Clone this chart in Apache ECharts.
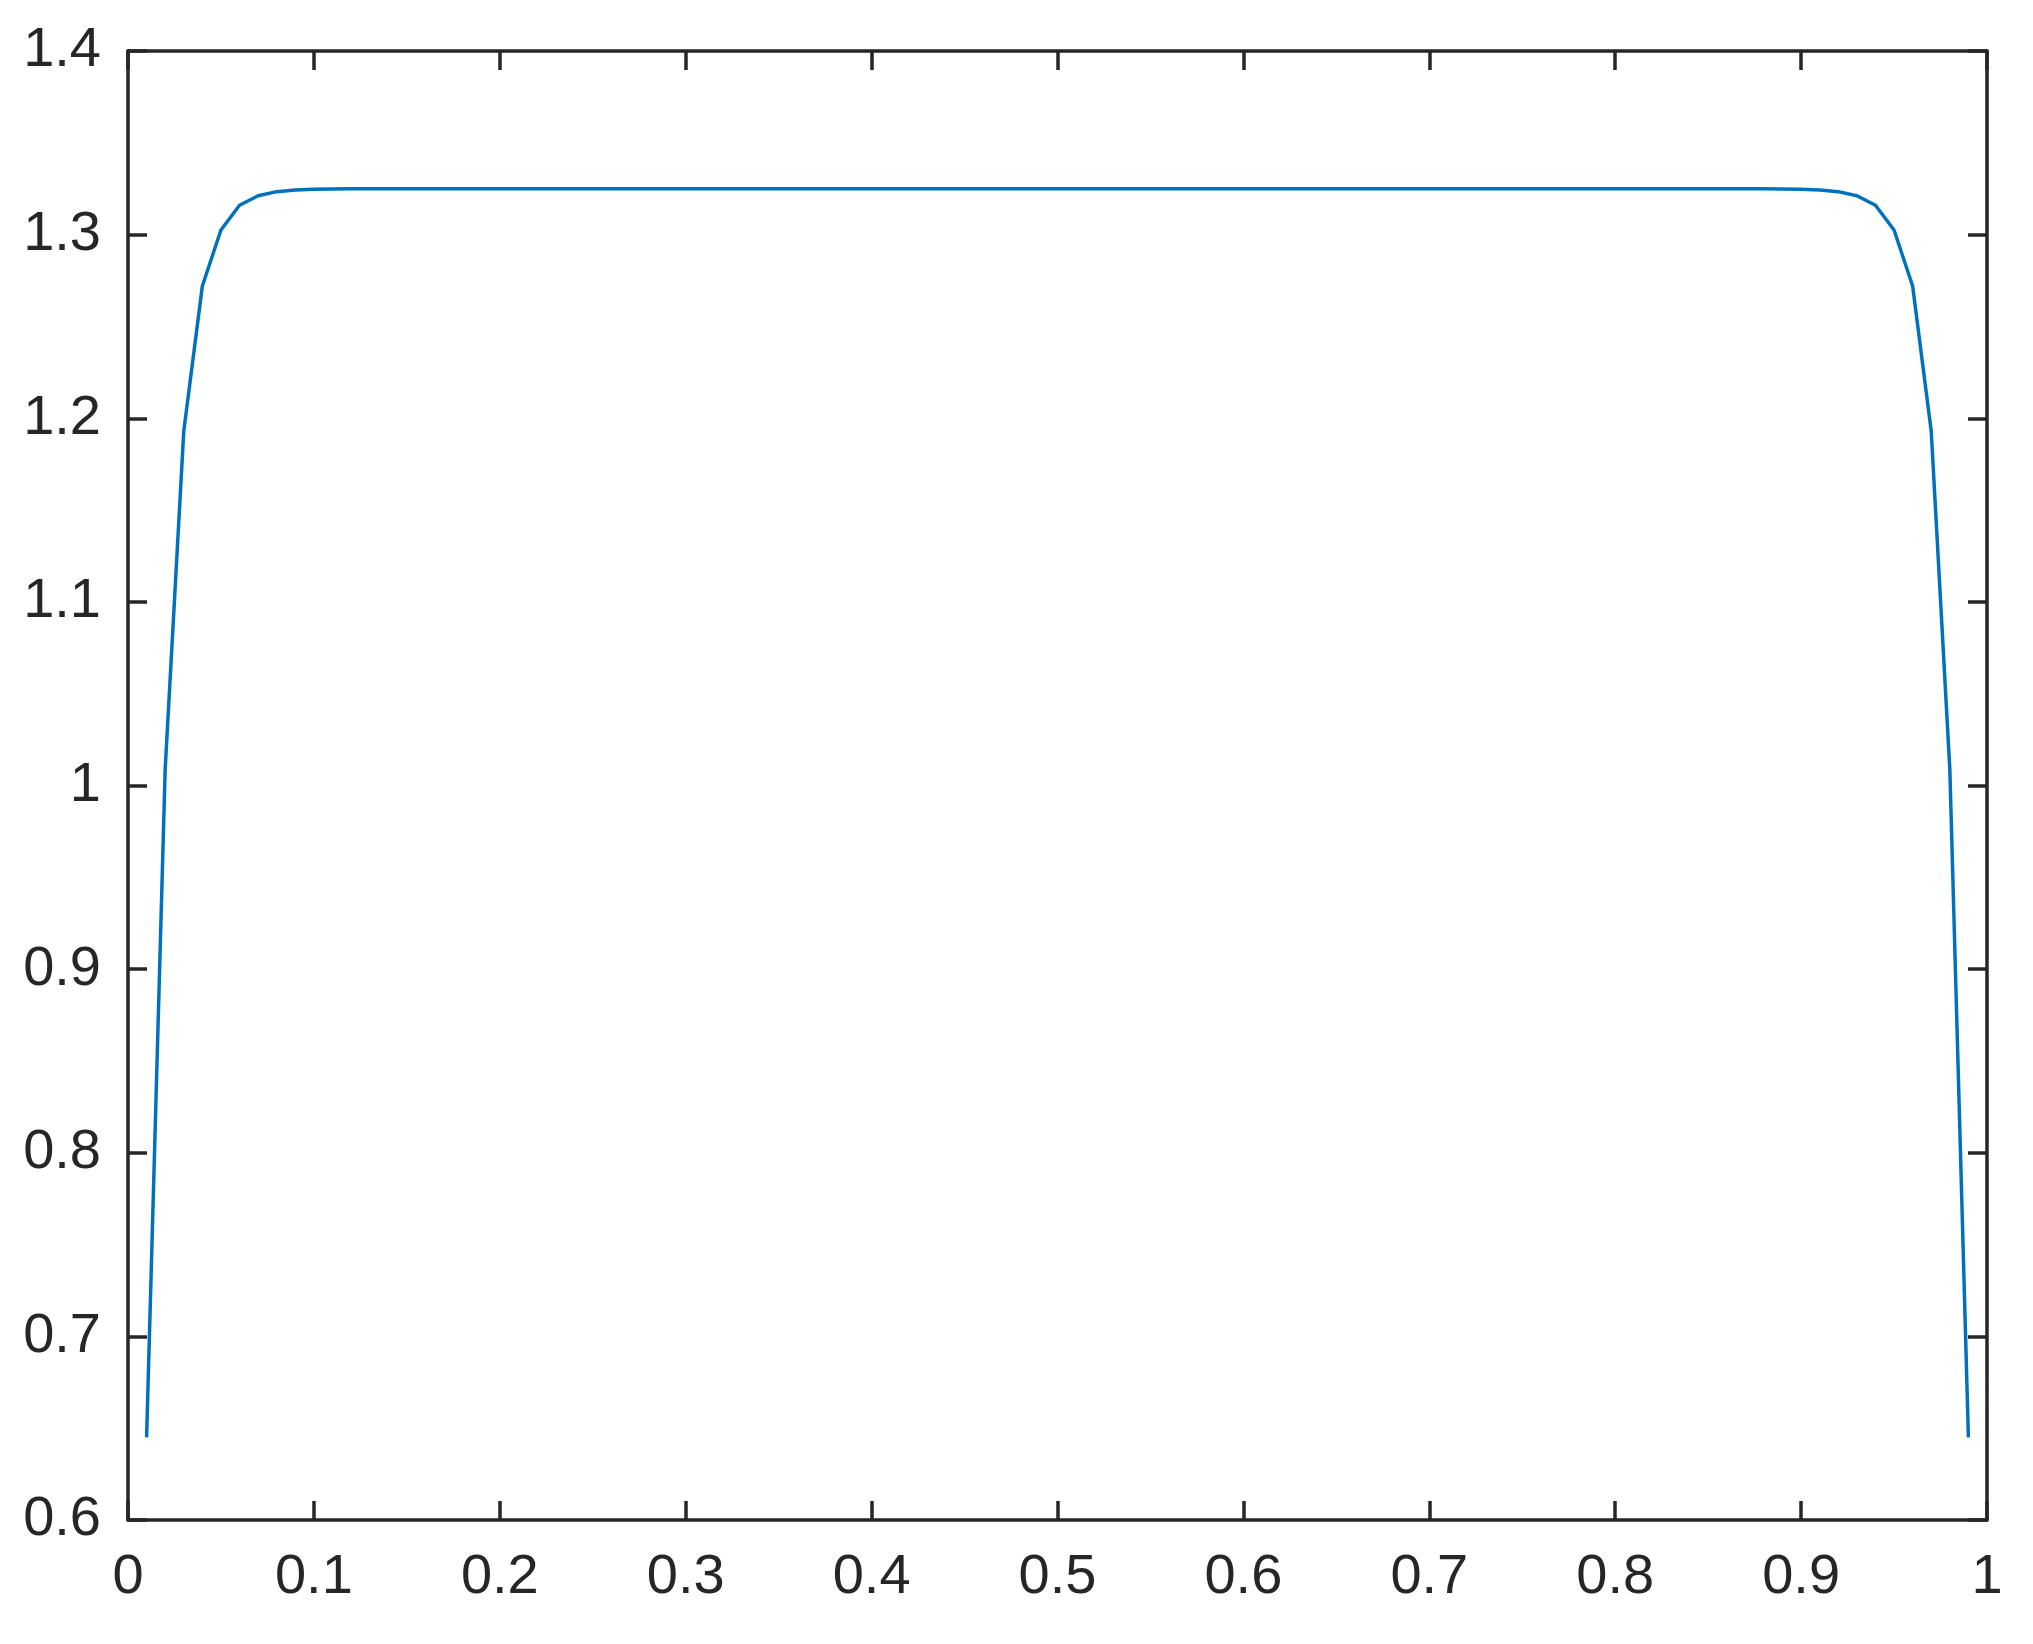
<!DOCTYPE html>
<html>
<head>
<meta charset="utf-8">
<script src="https://cdn.jsdelivr.net/npm/echarts@6/dist/echarts.min.js"></script>
<style>
html,body{margin:0;padding:0;background:#fff;}
#chart{width:2033px;height:1644px;}
</style>
</head>
<body>
<div id="chart"></div>
<script>
const xValues = [0.01,0.02,0.03,0.04,0.05,0.06,0.07,0.08,0.09,0.10,
0.11,0.12,0.13,0.14,0.15,0.16,0.17,0.18,0.19,0.20,
0.21,0.22,0.23,0.24,0.25,0.26,0.27,0.28,0.29,0.30,
0.31,0.32,0.33,0.34,0.35,0.36,0.37,0.38,0.39,0.40,
0.41,0.42,0.43,0.44,0.45,0.46,0.47,0.48,0.49,0.50,
0.51,0.52,0.53,0.54,0.55,0.56,0.57,0.58,0.59,0.60,
0.61,0.62,0.63,0.64,0.65,0.66,0.67,0.68,0.69,0.70,
0.71,0.72,0.73,0.74,0.75,0.76,0.77,0.78,0.79,0.80,
0.81,0.82,0.83,0.84,0.85,0.86,0.87,0.88,0.89,0.90,
0.91,0.92,0.93,0.94,0.95,0.96,0.97,0.98,0.99];
const yValues = [0.645,1.009,1.193,1.272,1.3025,1.316,1.3212,1.3234,1.3243,1.3247,
1.3249,1.325,1.325,1.325,1.325,1.325,1.325,1.325,1.325,1.325,
1.325,1.325,1.325,1.325,1.325,1.325,1.325,1.325,1.325,1.325,
1.325,1.325,1.325,1.325,1.325,1.325,1.325,1.325,1.325,1.325,
1.325,1.325,1.325,1.325,1.325,1.325,1.325,1.325,1.325,1.325,
1.325,1.325,1.325,1.325,1.325,1.325,1.325,1.325,1.325,1.325,
1.325,1.325,1.325,1.325,1.325,1.325,1.325,1.325,1.325,1.325,
1.325,1.325,1.325,1.325,1.325,1.325,1.325,1.325,1.325,1.325,
1.325,1.325,1.325,1.325,1.325,1.325,1.325,1.325,1.3249,1.3247,
1.3243,1.3234,1.3212,1.316,1.3025,1.272,1.193,1.009,0.645];
const xTicks = [0,0.1,0.2,0.3,0.4,0.5,0.6,0.7,0.8,0.9,1];
const yTicks = [0.6,0.7,0.8,0.9,1,1.1,1.2,1.3,1.4];

const axisColor = '#262626';
const fmt = v => String(+(+v).toFixed(2));
const font = {fontFamily:'Liberation Sans', fontSize:56, color:axisColor};
const lineStyle = {color:axisColor, width:3.5};

const chart = echarts.init(document.getElementById('chart'));
chart.setOption({
  animation:false,
  backgroundColor:'#fff',
  grid:{left:128, right:46, top:51, bottom:124, containLabel:false},
  xAxis:[
    {type:'value', position:'bottom', min:xTicks[0], max:xTicks[xTicks.length-1], interval:0.1,
     axisLine:{show:true, onZero:false, lineStyle},
     axisTick:{show:true, inside:true, length:19, lineStyle},
     axisLabel:{...font, margin:30, formatter:fmt},
     splitLine:{show:false}},
    {type:'value', position:'top', min:xTicks[0], max:xTicks[xTicks.length-1], interval:0.1,
     axisLine:{show:true, onZero:false, lineStyle},
     axisTick:{show:true, inside:true, length:19, lineStyle},
     axisLabel:{show:false}, splitLine:{show:false}}
  ],
  yAxis:[
    {type:'value', position:'left', min:yTicks[0], max:yTicks[yTicks.length-1], interval:0.1,
     axisLine:{show:true, onZero:false, lineStyle},
     axisTick:{show:true, inside:true, length:19, lineStyle},
     axisLabel:{...font, margin:27, padding:[10,0,0,0], formatter:fmt},
     splitLine:{show:false}},
    {type:'value', position:'right', min:yTicks[0], max:yTicks[yTicks.length-1], interval:0.1,
     axisLine:{show:true, onZero:false, lineStyle},
     axisTick:{show:true, inside:true, length:19, lineStyle},
     axisLabel:{show:false}, splitLine:{show:false}}
  ],
  series:[{
    type:'line',
    data:xValues.map((x,i)=>[x,yValues[i]]),
    showSymbol:false,
    symbol:'none',
    lineStyle:{color:'#0072BD', width:3.5},
    clip:true
  }]
});
</script>
</body>
</html>
